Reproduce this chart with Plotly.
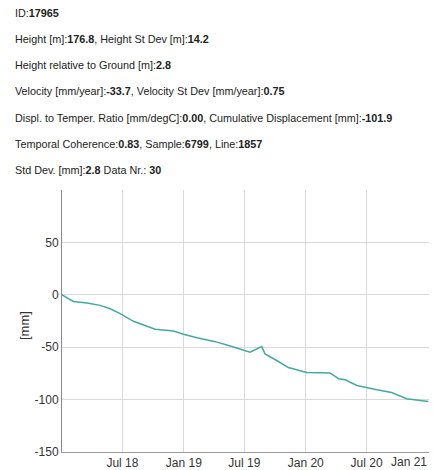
import plotly.graph_objects as go

dates = ["2018-01-01", "2018-02-04", "2018-03-17", "2018-04-25", "2018-05-25",
         "2018-06-24", "2018-08-03", "2018-09-02", "2018-10-07", "2018-12-01",
         "2018-12-31", "2019-02-09", "2019-04-05", "2019-05-20", "2019-07-03",
         "2019-07-18", "2019-08-22", "2019-09-01", "2019-10-06", "2019-11-10",
         "2020-01-04", "2020-03-14", "2020-03-29", "2020-04-08", "2020-04-28",
         "2020-06-02", "2020-08-01", "2020-09-14", "2020-10-29", "2021-01-02"]
displacement = [0, -6.3, -7.9, -10.1, -13.3, -18.0, -25.3, -28.5, -32.9, -34.5,
                -37.6, -40.9, -44.7, -48.8, -53.5, -54.8, -49.4, -56.4, -62.7, -69.4,
                -74.1, -74.7, -77.9, -80.1, -81.1, -86.5, -90.6, -93.2, -99.1, -101.9]

tick_vals = ["2018-07-01", "2019-01-01", "2019-07-01", "2020-01-01", "2020-07-01", "2021-01-01"]
tick_text = ["Jul 18", "Jan 19", "Jul 19", "Jan 20", "Jul 20", "Jan 21"]
y_ticks = [-150, -100, -50, 0, 50]
y_tick_text = ["-150", "-100", "-50", "0", "50"]
y_title = "[mm]"

info_lines = [
    "ID:<b>17965</b>",
    "Height [m]:<b>176.8</b>, Height St Dev [m]:<b>14.2</b>",
    "Height relative to Ground [m]:<b>2.8</b>",
    "Velocity [mm/year]:<b>-33.7</b>, Velocity St Dev [mm/year]:<b>0.75</b>",
    "Displ. to Temper. Ratio [mm/degC]:<b>0.00</b>, Cumulative Displacement [mm]:<b>-101.9</b>",
    "Temporal Coherence:<b>0.83</b>, Sample:<b>6799</b>, Line:<b>1857</b>",
    "Std Dev. [mm]:<b>2.8</b> Data Nr.: <b>30</b>",
]

W, H = 433, 470
ml, mr, mt, mb = 62, 4, 190, 18
pw, ph = W - ml - mr, H - mt - mb
FONT = "Liberation Sans, Arial"

fig = go.Figure()
fig.add_trace(go.Scatter(x=dates, y=displacement, mode="lines",
                         line=dict(color="#45a8a3", width=1.5),
                         showlegend=False))

annotations = []
for i, t in enumerate(info_lines):
    ypx = 12.5 + i * 26.3
    annotations.append(dict(
        text=t, xref="paper", yref="paper",
        x=(13 - ml) / pw, y=(H - mb - ypx) / ph,
        xanchor="left", yanchor="middle", showarrow=False,
        font=dict(family=FONT, size=10.8, color="#222")))

# last x tick label is shifted left to stay inside the chart (as in the reference)
annotations.append(dict(
    text=tick_text[-1], xref="paper", yref="paper",
    x=(429 - ml) / pw, y=(H - mb - 462) / ph,
    xanchor="right", yanchor="middle", showarrow=False,
    font=dict(family=FONT, size=12, color="#333")))
shown_text = tick_text[:-1] + [""]

# y axis title
annotations.append(dict(
    text=y_title, xref="paper", yref="paper", textangle=-90,
    x=(24 - ml) / pw, y=(H - mb - 326) / ph,
    xanchor="center", yanchor="middle", showarrow=False,
    font=dict(family=FONT, size=13, color="#333")))

fig.update_layout(
    width=W, height=H,
    margin=dict(l=ml, r=mr, t=mt, b=mb),
    paper_bgcolor="white", plot_bgcolor="white",
    font=dict(family=FONT, size=12, color="#333"),
    annotations=annotations,
    xaxis=dict(range=["2018-01-01", "2021-01-04"], tickvals=tick_vals, ticktext=shown_text,
               showgrid=True, gridcolor="#d9d9d9", gridwidth=1,
               showline=True, linecolor="#999", linewidth=1,
               ticks="", tickfont=dict(size=12, color="#333"), zeroline=False,
               automargin=False, ticklabeloverflow="allow"),
    yaxis=dict(range=[-150, 100], tickvals=y_ticks, ticktext=y_tick_text,
               showgrid=True, gridcolor="#d9d9d9", gridwidth=1,
               showline=True, linecolor="#888", linewidth=1,
               ticks="", tickfont=dict(size=12, color="#333"), zeroline=False,
               automargin=False),
)

fig.write_html("out.html", config={"displayModeBar": False},
               post_script="document.body.style.margin='0px';")
